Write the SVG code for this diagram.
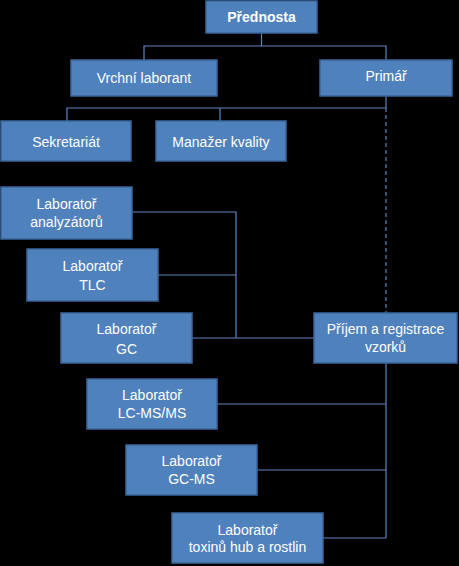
<svg xmlns="http://www.w3.org/2000/svg" width="459" height="566" viewBox="0 0 459 566">
<style>
.bg{fill:#000}
.box{fill:#4F81BD;stroke:#3A659A;stroke-width:1.5}
.t{fill:#fff;font-family:"Liberation Sans",Arial,sans-serif;font-size:14px;text-anchor:middle}
.b{font-weight:bold}
.c{fill:none;stroke:#5A86C0;stroke-width:1.2}
.d{stroke-dasharray:4 3}
</style>
<rect class="bg" x="0" y="0" width="459" height="566"/>
<g id="connectors">
<path class="c" d="M261.5 33V46M144 60V46H386V60"/>
<path class="c" d="M386 96V108M67 121V108H386M220 121V108"/>
<path class="c d" d="M386 108V313"/>
<path class="c" d="M132 212H236V338M158 275H236M192 338H314"/>
<path class="c" d="M386 363V538M217 404H386M257 470H386M323 538H386"/>
</g>
<g id="prednosta"><rect class="box" x="206" y="1" width="111" height="32"/><text class="t b" x="261.5" y="22">Přednosta</text></g>
<g id="vrchni"><rect class="box" x="71" y="60" width="146" height="36"/><text class="t" x="144" y="83">Vrchní laborant</text></g>
<g id="primar"><rect class="box" x="320" y="60" width="132" height="36"/><text class="t" x="386" y="81">Primář</text></g>
<g id="sekretariat"><rect class="box" x="1" y="121" width="130" height="40"/><text class="t" x="66" y="147">Sekretariát</text></g>
<g id="manazer"><rect class="box" x="156" y="121" width="130" height="40"/><text class="t" x="221" y="147">Manažer kvality</text></g>
<g id="lab-analyzatoru"><rect class="box" x="1" y="187" width="131" height="52"/><text class="t" x="66.5" y="209">Laboratoř</text><text class="t" x="66.5" y="227">analyzátorů</text></g>
<g id="lab-tlc"><rect class="box" x="27" y="249" width="131" height="52"/><text class="t" x="92.5" y="271">Laboratoř</text><text class="t" x="92.5" y="290">TLC</text></g>
<g id="lab-gc"><rect class="box" x="61" y="313" width="131" height="50"/><text class="t" x="126.5" y="334">Laboratoř</text><text class="t" x="126.5" y="354">GC</text></g>
<g id="prijem"><rect class="box" x="314" y="313" width="143" height="50"/><text class="t" x="385.5" y="334">Příjem a registrace</text><text class="t" x="385.5" y="352">vzorků</text></g>
<g id="lab-lcmsms"><rect class="box" x="87" y="379" width="130" height="50"/><text class="t" x="152" y="400">Laboratoř</text><text class="t" x="152" y="418">LC-MS/MS</text></g>
<g id="lab-gcms"><rect class="box" x="126" y="445" width="131" height="50"/><text class="t" x="191.5" y="466">Laboratoř</text><text class="t" x="191.5" y="484">GC-MS</text></g>
<g id="lab-toxinu"><rect class="box" x="172" y="513" width="151" height="50"/><text class="t" x="247.5" y="535">Laboratoř</text><text class="t" x="247.5" y="552">toxinů hub a rostlin</text></g>
</svg>
